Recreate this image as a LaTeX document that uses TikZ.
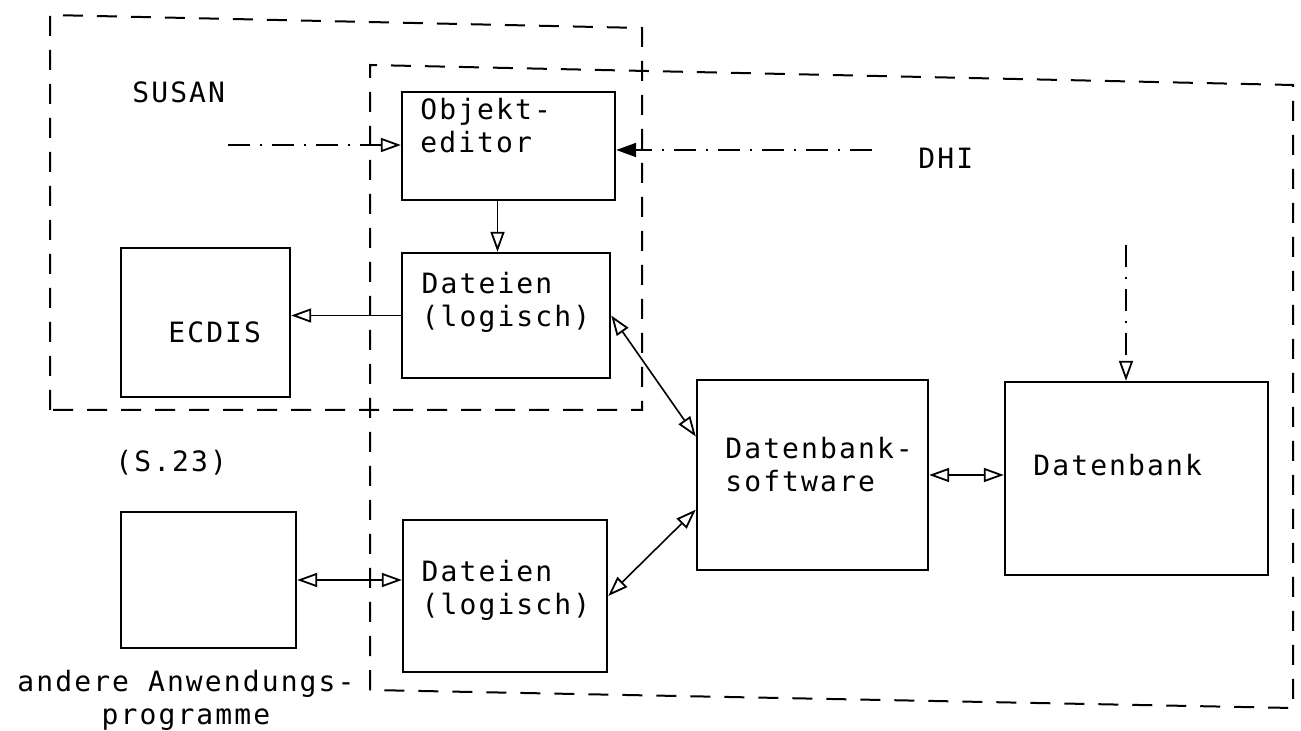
\documentclass[tikz,border=0pt]{standalone}
\usepackage{fontspec}
\newfontfamily\tw[LetterSpace=7.5]{DejaVu Sans Mono}
\usetikzlibrary{arrows.meta,fit,calc}
\tikzset{
  box/.style={draw, line width=1.2pt, inner sep=0pt},
  txt/.style={font=\tw\fontsize{14pt}{16.5pt}\selectfont, inner sep=0pt, align=left},
  region/.style={line width=1pt, dash pattern=on 10pt off 7pt},
  conn/.style={line width=0.8pt},
  otip/.style={-{Triangle[open,length=10pt,width=7pt,line width=0.9pt]}},
  btip/.style={{Triangle[open,length=10pt,width=7pt,line width=0.9pt]}-{Triangle[open,length=10pt,width=7pt,line width=0.9pt]}},
  dashdot/.style={line width=1pt, dash pattern=on 11pt off 5pt on 1pt off 5pt}
}
\begin{document}
\begin{tikzpicture}[x=0.5pt,y=-0.5pt]
\useasboundingbox (0,0) rectangle (1301,731);
% regions
\draw[region] (50,410) -- (50,15) -- (642,28) -- (642,410) -- cycle;
\draw[region] (370,690) -- (370,65) -- (1293,85) -- (1293,708) -- cycle;
% boxes
\node[box, fit={(402,92) (615,200)}] (obj) {};
\node[box, fit={(121,248) (290,397)}] (ecd) {};
\node[box, fit={(402,253) (610,378)}] (dat1) {};
\node[box, fit={(697,380) (928,570)}] (dbs) {};
\node[box, fit={(1005,382) (1268,575)}] (db) {};
\node[box, fit={(403,520) (607,672)}] (dat2) {};
\node[box, fit={(121,512) (296,648)}] (oth) {};
% texts
\node[txt, anchor=west] (tsusan) at (132,92) {SUSAN};
\node[txt, anchor=west] (tdhi) at (918,158) {DHI};
\node[txt, anchor=west] (tobj) at (420,126) {Objekt-\\editor};
\node[txt, anchor=west] (tecd) at (168,332) {ECDIS};
\node[txt, anchor=center] (tdat1) at (506,302) {Dateien\\(logisch)};
\node[txt, anchor=west] (tdbs) at (725,465) {Datenbank-\\software};
\node[txt, anchor=west] (tdb) at (1033,465) {Datenbank};
\node[txt, anchor=west] (ts23) at (115,463) {(S.23)};
\node[txt, anchor=center] (tdat2) at (506,590) {Dateien\\(logisch)};
\node[txt, anchor=center, align=center] (tandere) at (186,700) {andere Anwendungs-\\programme};
% connectors
\coordinate (cS) at (228,145);
\coordinate (cD) at (872,150);
\coordinate (cV) at (1126,245);
\coordinate (cO) at ($(obj.south)+(-11,0)$);
\draw[dashdot, otip] (cS) -- (cS -| obj.west);
\draw[dashdot, -{Triangle[length=10pt,width=7pt]}] (cD) -- (cD -| obj.east);
\draw[dashdot, otip] (cV) -- (cV |- db.north);
\draw[conn, otip] (cO) -- (cO |- dat1.north);
\draw[conn, otip] (dat1.west) -- (dat1.west -| ecd.east);
\draw[conn, btip] (dat1.east) -- ($(dbs.north west)!0.3!(dbs.south west)$);
\draw[conn, btip] (dat2.east) -- ($(dbs.north west)!0.68!(dbs.south west)$);
\draw[conn, btip] (dbs.east) -- (dbs.east -| db.west);
\draw[conn, btip] (oth.east) -- (oth.east -| dat2.west);
\end{tikzpicture}
\end{document}
